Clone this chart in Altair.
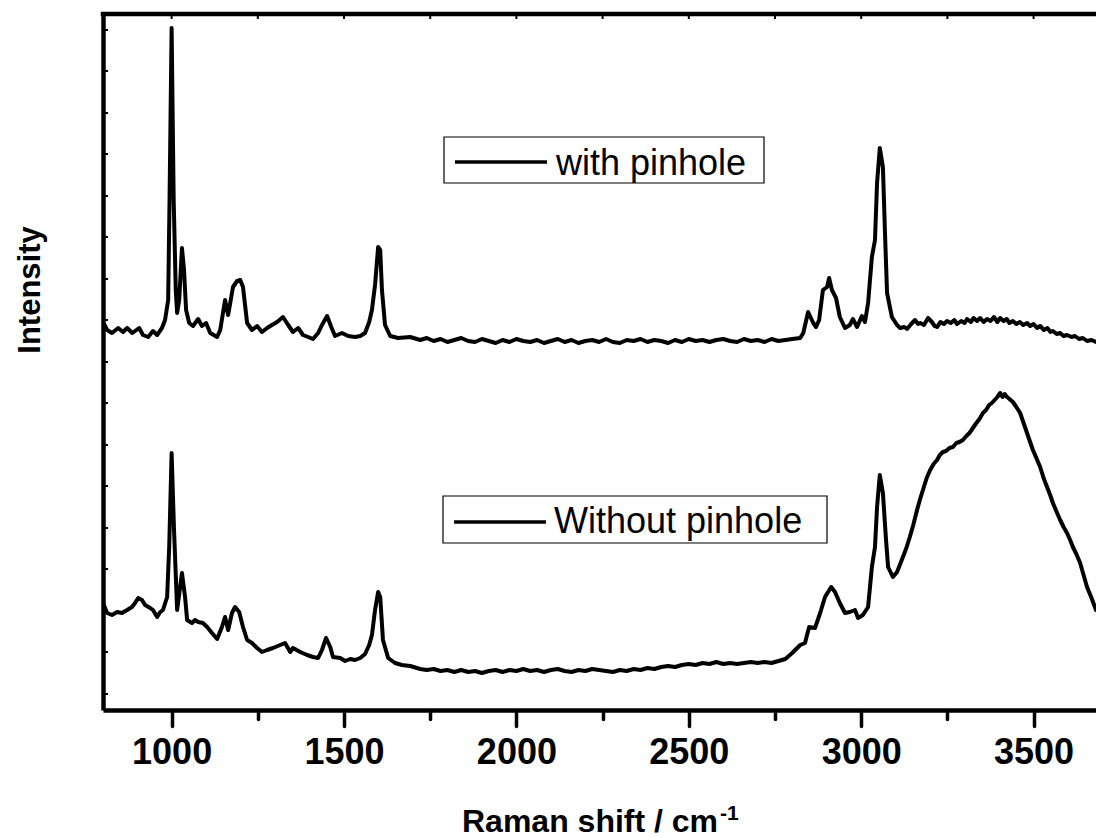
import altair as alt
import pandas as pd

# Raman spectra recorded with and without a confocal pinhole (offset for clarity)
shift_with = [801, 813, 827, 845, 859, 871, 886, 906, 917, 932, 946, 958, 972, 981, 990,
              994, 1000, 1006, 1012, 1016, 1022, 1030, 1036, 1042, 1051, 1062, 1077, 1088,
              1100, 1112, 1132, 1141, 1155, 1164, 1178, 1190, 1199, 1207, 1219, 1233, 1248,
              1262, 1277, 1291, 1306, 1323, 1338, 1352, 1367, 1381, 1396, 1410, 1425, 1436,
              1451, 1463, 1474, 1494, 1512, 1532, 1547, 1561, 1573, 1581, 1590, 1599, 1605,
              1610, 1619, 1634, 1657, 1692,
              1721, 1740, 1760, 1780, 1800, 1820, 1840, 1860, 1880, 1900, 1920, 1940, 1960,
              1980, 2000, 2020, 2040, 2060, 2080, 2100, 2120, 2140, 2160, 2180, 2200, 2220,
              2240, 2260, 2280, 2300, 2320, 2340, 2360, 2380, 2400, 2420, 2440, 2460, 2480,
              2500, 2520, 2540, 2560, 2580, 2600, 2620, 2640, 2660, 2680, 2700, 2720, 2740,
              2760, 2780, 2800,
              2823, 2832, 2846, 2861, 2869, 2878, 2889, 2901,
              2907, 2915, 2927, 2938, 2953, 2967, 2976, 2988, 3002, 3011, 3020, 3031, 3040,
              3046, 3054, 3063, 3069, 3075, 3089,
              3104, 3113, 3125, 3133, 3145, 3156, 3165, 3171, 3182, 3194, 3205, 3213, 3220,
              3230, 3240, 3249, 3260, 3270, 3278, 3290, 3300, 3307, 3318, 3326, 3336, 3345,
              3355, 3365, 3375, 3385, 3395, 3403, 3413, 3422, 3430, 3440, 3450, 3460, 3470,
              3481, 3490, 3500, 3510, 3519, 3530, 3540, 3549, 3556, 3567, 3577, 3587, 3597,
              3610, 3620, 3632, 3643, 3655, 3668, 3681]
int_with = [388, 380, 377, 382, 378, 382, 377, 382, 375, 373, 379, 375, 382, 390, 410,
            510, 682, 510, 420, 397, 410, 462, 440, 400, 387, 384, 391, 384,
            387, 377, 373, 380, 410, 395, 423, 429, 430, 423, 387, 380, 384,
            378, 382, 385, 388, 393, 385, 378, 382, 375, 373, 371, 377, 385,
            394, 383, 374, 377, 374, 373, 374, 377, 388, 400, 425, 463, 460,
            420, 385, 374, 372, 373,
            370, 372, 369, 371, 368, 370, 372, 369, 368, 371, 369, 367, 370,
            368, 371, 369, 368, 370, 367, 369, 371, 368, 370, 367, 369, 370,
            368, 371, 368, 367, 370, 369, 371, 368, 370, 369, 367, 370, 368,
            371, 369, 370, 368, 370, 371, 369, 368, 371, 369, 370, 368, 371,
            369, 370, 371,
            372, 377, 398, 387, 383, 390, 420, 423,
            432, 420, 412, 393, 382, 385, 391, 383, 394, 388, 407, 453, 470,
            527, 562, 543, 477, 417, 393,
            385, 382, 383, 381, 386, 390, 386, 387, 385, 392, 388, 384, 383,
            388, 386, 389, 387, 390, 386, 389, 387, 391, 388, 392, 389, 392,
            388, 391, 389, 393, 388, 392, 389, 391, 387, 389, 386, 388, 385,
            387, 384, 386, 382, 384, 380, 382, 378, 379, 376, 377, 374, 375,
            373, 374, 371, 372, 369, 370, 368]

shift_without = [801, 813, 827, 842, 856, 871, 885, 894, 903, 914, 923, 938, 946, 958, 967,
                 975, 987, 993, 1000, 1007, 1016, 1030, 1039, 1045, 1059, 1068, 1077, 1091,
                 1103, 1117, 1132, 1146, 1155, 1164, 1175, 1184, 1196, 1207, 1219, 1233, 1248,
                 1262, 1277, 1294, 1315, 1329, 1344, 1352, 1373, 1393, 1410, 1425, 1436, 1448,
                 1460, 1468, 1489, 1503, 1518, 1532, 1547, 1561, 1573, 1581, 1590, 1599, 1605,
                 1613, 1628, 1648, 1668, 1692,
                 1721, 1740, 1760, 1780, 1800, 1820, 1840, 1860, 1880, 1900, 1920, 1940, 1960,
                 1980, 2000, 2020, 2040, 2060, 2080, 2100, 2120, 2140, 2160, 2180, 2200, 2220,
                 2240, 2260, 2280, 2300, 2320, 2340, 2360, 2380, 2400, 2420, 2440, 2460, 2480,
                 2500, 2520, 2540, 2560, 2580, 2600, 2620, 2640, 2660, 2680, 2700, 2720, 2740,
                 2760, 2780, 2800,
                 2823, 2837, 2849, 2866, 2881, 2895, 2913,
                 2924, 2938, 2953, 2967, 2982, 2991, 3005, 3020, 3031, 3040, 3046, 3054, 3063,
                 3072, 3078,
                 3092, 3104, 3112, 3121, 3131, 3141, 3151, 3162, 3170, 3179, 3190, 3200, 3210,
                 3220, 3228, 3237, 3246, 3256, 3266, 3276, 3285, 3295, 3305, 3314, 3324, 3334,
                 3343, 3353, 3362, 3371, 3379, 3387, 3395, 3403, 3410, 3416, 3423, 3430, 3440,
                 3450, 3461, 3471, 3481, 3490, 3498, 3508, 3519, 3529, 3539, 3548, 3556, 3567,
                 3577, 3587, 3597, 3606, 3614, 3624, 3635, 3645, 3655, 3668, 3681]
int_without = [107, 97, 95, 98, 97, 100, 103, 107, 112, 110, 105, 102, 100, 93, 98,
               100, 113, 163, 257, 180, 100, 137, 113, 90, 87, 90, 88, 87,
               83, 77, 71, 83, 93, 80, 97, 103, 98, 83, 70, 67, 62,
               58, 60, 62, 65, 67, 58, 62, 58, 55, 53, 52, 60, 72,
               63, 53, 52, 49, 51, 50, 52, 56, 65, 75, 100, 118, 113,
               70, 52, 47, 45, 44,
               41, 40, 41, 39, 40, 38, 40, 38, 39, 37, 39, 40, 38,
               40, 39, 41, 39, 40, 38, 40, 41, 39, 38, 40, 39, 41,
               40, 39, 38, 40, 39, 41, 40, 42, 41, 43, 44, 43, 45,
               46, 45, 47, 46, 48, 46, 47, 46, 47, 48, 47, 48, 47,
               49, 51, 57,
               65, 67, 83, 82, 97, 113, 123,
               118, 107, 97, 98, 100, 92, 95, 103, 143, 163, 203, 235, 217,
               170, 143,
               133, 138, 145, 153, 162, 173, 185, 200, 210, 220, 232, 240, 246,
               250, 255, 258, 259, 262, 263, 267, 268, 270, 274, 277, 282, 287,
               291, 297, 300, 305, 307, 310, 313, 317, 313, 316, 313, 311, 308,
               303, 297, 287, 277, 268, 260, 252, 243, 232, 223, 215, 207, 198,
               190, 183, 177, 170, 163, 156, 147, 135, 123, 112, 100]

legend_labels = ["with pinhole", "Without pinhole"]
x_ticks = [1000, 1250, 1500, 1750, 2000, 2250, 2500, 2750, 3000, 3250, 3500]
y_ticks = [16, 58, 99, 141, 182, 224, 265, 307, 348, 390, 431, 473, 514, 556, 597, 639, 680]

spectra = pd.concat([
    pd.DataFrame({"shift": shift_with, "intensity": int_with, "series": legend_labels[0]}),
    pd.DataFrame({"shift": shift_without, "intensity": int_without, "series": legend_labels[1]}),
])

W, H = 993, 696
FONT = "Liberation Sans"

x_enc = alt.X(
    "shift:Q",
    scale=alt.Scale(domain=[801, 3681], nice=False, zero=False),
    axis=alt.Axis(
        title=None, values=x_ticks, format="d", grid=False,
        labelExpr="datum.value % 500 === 0 ? datum.label : ''",
        tickSize={"condition": {"test": "datum.value % 500 === 0", "value": 16}, "value": 9},
        tickWidth=3.5, tickColor="black", tickCap="round",
        domainWidth=4.5, domainColor="black",
        labelFont=FONT, labelFontWeight="bold", labelFontSize=36, labelColor="black",
        labelPadding=9, labelOverlap=False, labelFlush=False,
    ),
)
y_enc = alt.Y(
    "intensity:Q",
    scale=alt.Scale(domain=[0, 696], nice=False, zero=False),
    axis=alt.Axis(title=None, labels=False, ticks=False, grid=False,
                  domainWidth=4.5, domainColor="black"),
)

lines = alt.Chart(spectra).mark_line(
    color="black", strokeWidth=4, strokeJoin="round", strokeCap="round", clip=True
).encode(x=x_enc, y=y_enc, detail="series:N", order=alt.Order("shift:Q"))

# frame: top spine and small inward ticks on top/left
top_spine = alt.Chart(pd.DataFrame({"k": [0]})).mark_rule(
    color="black", strokeWidth=4.5, strokeCap="square"
).encode(x=alt.value(0), x2=alt.value(W), y=alt.value(0))

top_ticks = alt.Chart(pd.DataFrame({"shift": x_ticks})).mark_rule(
    color="black", strokeWidth=2
).encode(x=x_enc, y=alt.value(0), y2=alt.value(5))

left_ticks = alt.Chart(pd.DataFrame({"intensity": y_ticks})).mark_rule(
    color="black", strokeWidth=2
).encode(y=y_enc, x=alt.value(0), x2=alt.value(5))

# legend boxes
def legend_box(label, x0, x1, y0, y1, line_y, text_x, text_y):
    src = pd.DataFrame({"label": [label]})
    box = alt.Chart(src).mark_rect(fill="white", stroke="black", strokeWidth=1.2).encode(
        x=alt.value(x0), x2=alt.value(x1), y=alt.value(y0), y2=alt.value(y1))
    sample = alt.Chart(src).mark_rule(color="black", strokeWidth=3.5).encode(
        x=alt.value(x0 + 11), x2=alt.value(x0 + 103), y=alt.value(line_y))
    txt = alt.Chart(src).mark_text(
        font=FONT, fontSize=36, align="left", baseline="alphabetic", color="black"
    ).encode(text="label:N", x=alt.value(text_x), y=alt.value(text_y))
    return box + sample + txt

leg1 = legend_box(legend_labels[0], 341, 661, 123, 169, 148, 453, 161)
leg2 = legend_box(legend_labels[1], 340, 724, 482, 529, 508, 451, 519)

# axis titles
title_src = pd.DataFrame({"t": ["Raman shift / cm"]})
x_title = alt.Chart(title_src).mark_text(
    font=FONT, fontSize=32, fontWeight="bold", align="left", baseline="alphabetic", color="black"
).encode(text="t:N", x=alt.value(359), y=alt.value(818))
x_title_sup = alt.Chart(pd.DataFrame({"t": ["-1"]})).mark_text(
    font=FONT, fontSize=21, fontWeight="bold", align="left", baseline="alphabetic", color="black"
).encode(text="t:N", x=alt.value(617), y=alt.value(806))
y_title = alt.Chart(pd.DataFrame({"t": ["Intensity"]})).mark_text(
    font=FONT, fontSize=31, fontWeight="bold", align="center", baseline="middle",
    angle=270, color="black"
).encode(text="t:N", x=alt.value(-72), y=alt.value(276))

chart = alt.layer(
    lines, top_spine, top_ticks, left_ticks, leg1, leg2, x_title, x_title_sup, y_title
).properties(
    width=W, height=H,
    autosize=alt.AutoSizeParams(type="none"),
    padding={"left": 103, "top": 14, "right": 0, "bottom": 128},
).configure_view(stroke=None).configure(background="white")

chart.save("out.html", embed_options={"renderer": "svg", "actions": False})
